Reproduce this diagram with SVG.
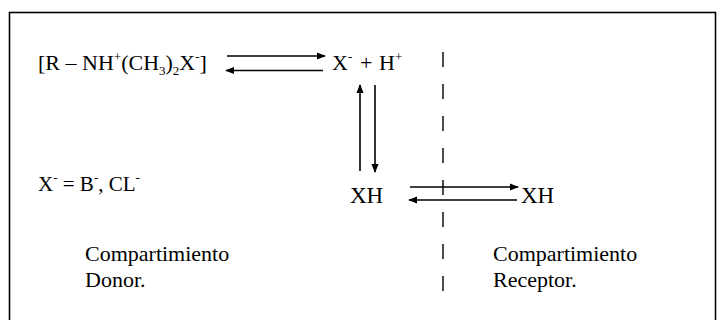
<svg xmlns="http://www.w3.org/2000/svg" width="717" height="320" viewBox="0 0 717 320">
<style>
text{font-family:"Liberation Serif","Times New Roman",serif;fill:#000;}
.f{font-size:22px;}
.g{font-size:21px;}
.l{font-size:22px;}
.x{font-size:23px;}
.s{font-size:13px;}
.c{stroke:#000;stroke-width:1.6;fill:none;}
.d{stroke:#000;stroke-width:1.4;stroke-dasharray:15 17;}
</style>
<defs>
<marker id="ah" viewBox="0 0 10 10" refX="9" refY="5" markerWidth="9" markerHeight="9" markerUnits="userSpaceOnUse" orient="auto">
<path d="M0,1 L10,5 L0,9 Z" fill="#000"/>
</marker>
</defs>
<rect x="9.5" y="12.5" width="706" height="330" fill="none" stroke="#000" stroke-width="1.6"/>
<g id="complex">
<text class="f" x="38" y="70">[R – NH<tspan class="s" dy="-9">+</tspan><tspan dy="9">(CH</tspan><tspan class="s" dy="5">3</tspan><tspan dy="-5">)</tspan><tspan class="s" dy="5">2</tspan><tspan dy="-5">X</tspan><tspan class="s" dy="-9">-</tspan><tspan dy="9">]</tspan></text>
</g>
<g id="ions">
<text class="f" x="332" y="70">X<tspan class="s" dy="-9">-</tspan><tspan x="360" dy="9">+</tspan><tspan x="379">H</tspan><tspan class="s" dy="-9">+</tspan></text>
</g>
<g id="legend">
<text class="g" x="38" y="191">X<tspan class="s" dy="-9">-</tspan><tspan dy="9"> = B</tspan><tspan class="s" dy="-9">-</tspan><tspan dy="9">, CL</tspan><tspan class="s" dy="-9">-</tspan></text>
</g>
<g id="xh-donor">
<text class="x" x="350" y="203">XH</text>
</g>
<g id="xh-receptor">
<text class="x" x="521" y="203">XH</text>
</g>
<g id="label-donor">
<text class="l" x="85" y="261">Compartimiento</text>
<text class="l" x="85" y="287">Donor.</text>
</g>
<g id="label-receptor">
<text class="l" x="493" y="261">Compartimiento</text>
<text class="l" x="493" y="287">Receptor.</text>
</g>
<g id="connectors">
<line class="c" x1="227" y1="56" x2="325" y2="56" marker-end="url(#ah)"/>
<line class="c" x1="323" y1="70.5" x2="226" y2="70.5" marker-end="url(#ah)"/>
<line class="c" x1="360" y1="171" x2="360" y2="85" marker-end="url(#ah)"/>
<line class="c" x1="375" y1="85" x2="375" y2="172" marker-end="url(#ah)"/>
<line class="c" x1="410" y1="187" x2="518" y2="187" marker-end="url(#ah)"/>
<line class="c" x1="517" y1="200" x2="409" y2="200" marker-end="url(#ah)"/>
<line class="d" x1="443" y1="52" x2="443" y2="300"/>
</g>
</svg>
